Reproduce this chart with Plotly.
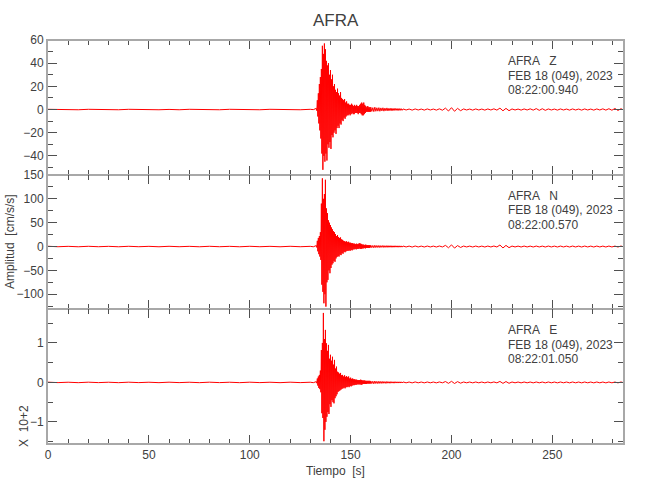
import numpy as np
import plotly.graph_objects as go
from plotly.subplots import make_subplots

# ---------------- data ----------------
STATION = "AFRA"
COMPONENTS = ["Z", "N", "E"]
DATES = ["FEB 18 (049), 2023"] * 3
START_TIMES = ["08:22:00.940", "08:22:00.570", "08:22:01.050"]

# sample times (s)
T_PRE = [0, 10, 20, 30, 40, 50, 60, 70, 80, 90, 100, 110, 120, 130]
T_EVENT = list(np.arange(133.0, 160.0, 0.5))
T_TAIL1 = [160, 161, 162, 163, 164, 165, 166, 167, 168, 169, 170, 171, 172, 173, 174, 175]
T_TAIL2 = [176, 179, 182, 185, 188, 191, 194, 197, 200, 203, 206, 209, 212, 215, 218,
           221, 224, 227, 230, 233, 236, 239, 242, 245, 248, 251, 254, 257, 260, 263,
           266, 269, 272, 275, 278, 281, 284]

# Z component (cm/s/s): upper / lower excursions per sample
Z_PRE_UP = [0.2, 0.1, 0.2, 0.1, 0.2, 0.2, 0.1, 0.2, 0.1, 0.2, 0.1, 0.2, 0.1, 0.2]
Z_PRE_LO = [-0.1, -0.2, -0.1, -0.2, -0.1, -0.2, -0.2, -0.1, -0.2, -0.1, -0.2, -0.1, -0.2, -0.1]
Z_EV_UP = [1, 8, 14, 22, 28, 35, 55, 48, 57, 52,
           42, 38, 40, 30, 34, 26, 30, 20, 22, 17,
           15, 18, 14, 12, 15, 10, 9, 8, 9, 6,
           7, 5, 5, 4, 4, 5, 4, 3, 4, 3,
           4, 3, 3, 4, 5, 6, 5, 6, 4, 3,
           2, 3, 2, 2]
Z_EV_LO = [-1, -6, -12, -18, -25, -38, -52, -40, -45, -38,
           -44, -30, -33, -28, -34, -22, -24, -20, -18, -21,
           -16, -14, -16, -12, -13, -9, -10, -7, -8, -6,
           -5, -5, -4, -5, -4, -3, -4, -4, -3, -3,
           -3, -4, -3, -3, -4, -5, -5, -4, -3, -2,
           -2, -2, -2, -2]
Z_T1_UP = [2.0, 1.6, 2.0, 1.5, 1.6, 1.4, 1.5, 1.2, 1.4, 1.1, 1.2, 1.0, 1.1, 0.9, 0.9, 0.8]
Z_T1_LO = [-1.6, -1.8, -1.5, -1.4, -1.5, -1.2, -1.4, -1.1, -1.2, -1.0, -1.1, -0.9, -0.8, -0.9, -0.8, -0.7]
Z_T2_UP = [0.5, 0.4, 0.5, 0.4, 0.5, 0.4, 0.6, 1.2, 1.6, 1.0, 0.5, 0.4, 0.5, 0.4, 0.5, 0.6,
           1.2, 1.0, 0.5, 0.4, 0.5, 0.6, 0.8, 0.7, 0.5, 0.4, 0.5, 0.4, 0.5, 0.4, 0.5, 0.4,
           0.5, 0.6, 0.7, 0.9, 0.7]
Z_T2_LO = [-0.4, -0.5, -0.4, -0.5, -0.4, -0.5, -0.6, -1.3, -1.5, -1.0, -0.4, -0.5, -0.4, -0.5,
           -0.4, -0.5, -1.1, -1.0, -0.4, -0.5, -0.4, -0.5, -0.7, -0.7, -0.4, -0.5, -0.4, -0.5,
           -0.4, -0.5, -0.4, -0.5, -0.4, -0.5, -0.6, -0.8, -0.6]

# N component (cm/s/s)
N_PRE_UP = [0.5, 0.4, 0.5, 0.4, 0.5, 0.4, 0.5, 0.4, 0.5, 0.4, 0.5, 0.4, 0.5, 0.4]
N_PRE_LO = [-0.4, -0.5, -0.4, -0.5, -0.4, -0.5, -0.4, -0.5, -0.4, -0.5, -0.4, -0.5, -0.4, -0.5]
N_EV_UP = [2, 12, 18, 22, 30, 90, 143, 100, 110, 140,
           80, 70, 55, 50, 45, 40, 36, 32, 30, 26,
           22, 24, 20, 18, 19, 15, 14, 12, 11, 10,
           11, 9, 10, 8, 8, 7, 7, 6, 6, 5,
           6, 5, 6, 7, 6, 5, 4, 4, 3, 4,
           3, 3, 3, 3]
N_EV_LO = [-2, -10, -16, -21, -28, -80, -95, -119, -100, -126,
           -75, -70, -50, -56, -45, -38, -35, -30, -32, -25,
           -22, -20, -21, -17, -18, -14, -15, -11, -12, -10,
           -9, -9, -8, -9, -7, -8, -6, -6, -5, -6,
           -5, -5, -4, -5, -5, -4, -4, -3, -4, -3,
           -3, -3, -3, -2]
N_T1_UP = [2.6, 2.2, 2.6, 2.2, 2.2, 2.0, 2.2, 1.8, 2.0, 1.8, 1.8, 1.6, 1.7, 1.5, 1.5, 1.4]
N_T1_LO = [-2.4, -2.6, -2.2, -2.1, -2.2, -1.8, -2.0, -1.8, -1.8, -1.6, -1.7, -1.5, -1.4, -1.5, -1.4, -1.3]
N_T2_UP = [1.1, 0.9, 1.1, 0.9, 1.0, 0.9, 1.1, 2.4, 3.5, 2.0, 1.0, 0.9, 1.0, 0.9, 1.0, 1.1,
           3.2, 2.4, 1.0, 0.9, 1.0, 0.9, 1.0, 0.9, 1.0, 0.9, 1.0, 0.9, 1.0, 0.9, 1.0, 0.9,
           1.0, 0.9, 1.0, 0.9, 1.0]
N_T2_LO = [-0.9, -1.1, -0.9, -1.0, -0.9, -1.0, -0.9, -2.6, -3.3, -1.9, -0.9, -1.0, -0.9, -1.0,
           -0.9, -1.0, -3.0, -2.4, -0.9, -1.0, -0.9, -1.0, -0.9, -1.0, -0.9, -1.0, -0.9, -1.0,
           -0.9, -1.0, -0.9, -1.0, -0.9, -1.0, -0.9, -1.0, -0.9]

# E component (x 10^2 cm/s/s)
E_PRE_UP = [0.006, 0.005, 0.006, 0.005, 0.006, 0.005, 0.006, 0.005, 0.006, 0.005, 0.006, 0.005, 0.006, 0.005]
E_PRE_LO = [-0.005, -0.006, -0.005, -0.006, -0.005, -0.006, -0.005, -0.006, -0.005, -0.006, -0.005, -0.006, -0.005, -0.006]
E_EV_UP = [0.02, 0.10, 0.15, 0.19, 0.30, 0.82, 1.00, 1.76, 1.10, 1.33,
           0.99, 0.80, 0.95, 0.60, 0.70, 0.55, 0.65, 0.45, 0.57, 0.35,
           0.40, 0.27, 0.25, 0.22, 0.24, 0.18, 0.19, 0.15, 0.18, 0.14,
           0.16, 0.13, 0.15, 0.10, 0.12, 0.09, 0.10, 0.08, 0.08, 0.07,
           0.07, 0.06, 0.06, 0.06, 0.07, 0.06, 0.05, 0.05, 0.05, 0.04,
           0.04, 0.04, 0.04, 0.04]
E_EV_LO = [-0.02, -0.08, -0.14, -0.17, -0.25, -0.78, -0.90, -1.49, -1.20, -1.00,
           -0.87, -0.75, -0.80, -0.55, -0.62, -0.45, -0.50, -0.53, -0.40, -0.35,
           -0.30, -0.24, -0.22, -0.20, -0.18, -0.16, -0.15, -0.13, -0.15, -0.12,
           -0.12, -0.10, -0.12, -0.09, -0.10, -0.08, -0.07, -0.07, -0.06, -0.06,
           -0.05, -0.05, -0.05, -0.05, -0.06, -0.05, -0.04, -0.04, -0.04, -0.04,
           -0.03, -0.03, -0.03, -0.03]
E_T1_UP = [0.035, 0.03, 0.035, 0.028, 0.03, 0.026, 0.026, 0.022, 0.025, 0.02, 0.022, 0.018, 0.02, 0.017, 0.017, 0.016]
E_T1_LO = [-0.03, -0.035, -0.028, -0.03, -0.026, -0.026, -0.022, -0.025, -0.02, -0.022, -0.018, -0.02, -0.017, -0.017, -0.016, -0.015]
E_T2_UP = [0.012, 0.010, 0.012, 0.010, 0.011, 0.010, 0.012, 0.022, 0.028, 0.020, 0.011, 0.010,
           0.011, 0.010, 0.011, 0.012, 0.025, 0.022, 0.011, 0.010, 0.011, 0.010, 0.011, 0.010,
           0.011, 0.010, 0.011, 0.010, 0.011, 0.010, 0.011, 0.010, 0.011, 0.010, 0.011, 0.010, 0.011]
E_T2_LO = [-0.010, -0.012, -0.010, -0.011, -0.010, -0.011, -0.010, -0.023, -0.027, -0.019, -0.010,
           -0.011, -0.010, -0.011, -0.010, -0.011, -0.024, -0.022, -0.010, -0.011, -0.010, -0.011,
           -0.010, -0.011, -0.010, -0.011, -0.010, -0.011, -0.010, -0.011, -0.010, -0.011, -0.010,
           -0.011, -0.010, -0.011, -0.010]

Y_RANGES = [[-56.5, 60], [-131, 150], [-1.56, 1.86]]
Y_DTICK = [20, 50, 1]
Y_MINOR = [10, 25, 0.5]
X_RANGE = [0, 285]

# ---------------- build ----------------
T_ALL = list(T_PRE) + list(T_EVENT) + list(T_TAIL1) + list(T_TAIL2)
series = [
    (Z_PRE_UP + Z_EV_UP + Z_T1_UP + Z_T2_UP, Z_PRE_LO + Z_EV_LO + Z_T1_LO + Z_T2_LO),
    (N_PRE_UP + N_EV_UP + N_T1_UP + N_T2_UP, N_PRE_LO + N_EV_LO + N_T1_LO + N_T2_LO),
    (E_PRE_UP + E_EV_UP + E_T1_UP + E_T2_UP, E_PRE_LO + E_EV_LO + E_T1_LO + E_T2_LO),
]


def trace_xy(t, up, lo):
    xs, ys = [], []
    for i in range(len(t)):
        dt = (t[i + 1] - t[i]) if i + 1 < len(t) else (t[i] - t[i - 1])
        xs += [t[i], t[i] + dt / 2]
        ys += [up[i], lo[i]]
    return xs, ys


FONT = "Liberation Sans, Arial, sans-serif"
TXT = "#404040"
FRAME = "#a8a8a8"
TICK = "#505050"

fig = make_subplots(rows=3, cols=1, shared_xaxes=True, vertical_spacing=0)
for k, (up, lo) in enumerate(series):
    xs, ys = trace_xy(T_ALL, up, lo)
    fig.add_trace(go.Scatter(x=xs, y=ys, mode="lines",
                             line=dict(color="#ff0000", width=1),
                             hoverinfo="skip", showlegend=False),
                  row=k + 1, col=1)

b1, b2 = (444 - 175) / 404, (444 - 309) / 404
domains = [[b1, 1.0], [b2, b1], [0.0, b2]]

for k in range(3):
    yname = "yaxis" if k == 0 else f"yaxis{k + 1}"
    xname = "xaxis" if k == 0 else f"xaxis{k + 1}"
    fig.layout[yname].update(
        domain=domains[k], range=Y_RANGES[k], dtick=Y_DTICK[k], tick0=0,
        showline=True, linecolor=FRAME, linewidth=2, mirror="ticks",
        ticks="inside", ticklen=9, tickwidth=1, tickcolor=TICK,
        minor=dict(dtick=Y_MINOR[k], tick0=0, ticks="inside", ticklen=5,
                   tickwidth=1, tickcolor=TICK, showgrid=False),
        showgrid=False, zeroline=False, automargin=False,
        tickfont=dict(family=FONT, size=12, color=TXT),
    )
    fig.layout[xname].update(
        range=X_RANGE, dtick=50, tick0=0,
        showline=True, linecolor=FRAME, linewidth=1, mirror="ticks",
        ticks="inside", ticklen=9, tickwidth=1, tickcolor=TICK,
        minor=dict(dtick=10, tick0=0, ticks="inside", ticklen=5,
                   tickwidth=1, tickcolor=TICK, showgrid=False),
        showgrid=False, zeroline=False, automargin=False,
        showticklabels=(k == 2),
        tickfont=dict(family=FONT, size=12, color=TXT),
    )

ann = []
# per-panel header text
for k in range(3):
    yd = "y domain" if k == 0 else f"y{k + 1} domain"
    xr = "x" if k == 0 else f"x{k + 1}"
    lines = [f"{STATION}   {COMPONENTS[k]}", DATES[k], START_TIMES[k]]
    for j, txt in enumerate(lines):
        ann.append(dict(text=txt, xref=xr, yref=yd, x=227.2, y=1 - (21 + 14.4 * j) / 134.5,
                        xanchor="left", yanchor="middle", showarrow=False,
                        font=dict(family=FONT, size=12, color=TXT)))

ann.append(dict(text=STATION, xref="paper", yref="paper", x=0.5, y=(444 - 21) / 404,
                xanchor="center", yanchor="middle", showarrow=False,
                font=dict(family=FONT, size=17, color=TXT)))
ann.append(dict(text="Amplitud  [cm/s/s]", xref="paper", yref="paper", x=(10 - 48) / 575,
                y=(444 - 242) / 404, textangle=-90, xanchor="center", yanchor="middle",
                showarrow=False, font=dict(family=FONT, size=12, color=TXT)))
ann.append(dict(text="X  10+2", xref="paper", yref="paper", x=(24 - 48) / 575,
                y=(444 - 426) / 404, textangle=-90, xanchor="center", yanchor="middle",
                showarrow=False, font=dict(family=FONT, size=12, color=TXT)))
ann.append(dict(text="Tiempo  [s]", xref="paper", yref="paper", x=(335 - 48) / 575,
                y=(444 - 471) / 404, xanchor="center", yanchor="middle",
                showarrow=False, font=dict(family=FONT, size=12, color=TXT)))

# outer top / bottom frame edges drawn at the same weight as the side lines
shapes = [
    dict(type="line", xref="paper", yref="paper", x0=0, x1=1, y0=1, y1=1,
         line=dict(color=FRAME, width=2)),
    dict(type="line", xref="paper", yref="paper", x0=0, x1=1, y0=0, y1=0,
         line=dict(color=FRAME, width=2)),
]

fig.update_layout(
    width=650, height=500,
    margin=dict(l=48, r=27, t=40, b=56, autoexpand=False),
    paper_bgcolor="white", plot_bgcolor="white",
    annotations=ann, shapes=shapes, showlegend=False,
)

# remove the default 8 px page margin so the figure fills the window exactly
fig.write_html("out.html",
               config={"displayModeBar": False},
               post_script="document.body.style.margin='0px';document.body.style.overflow='hidden';")
